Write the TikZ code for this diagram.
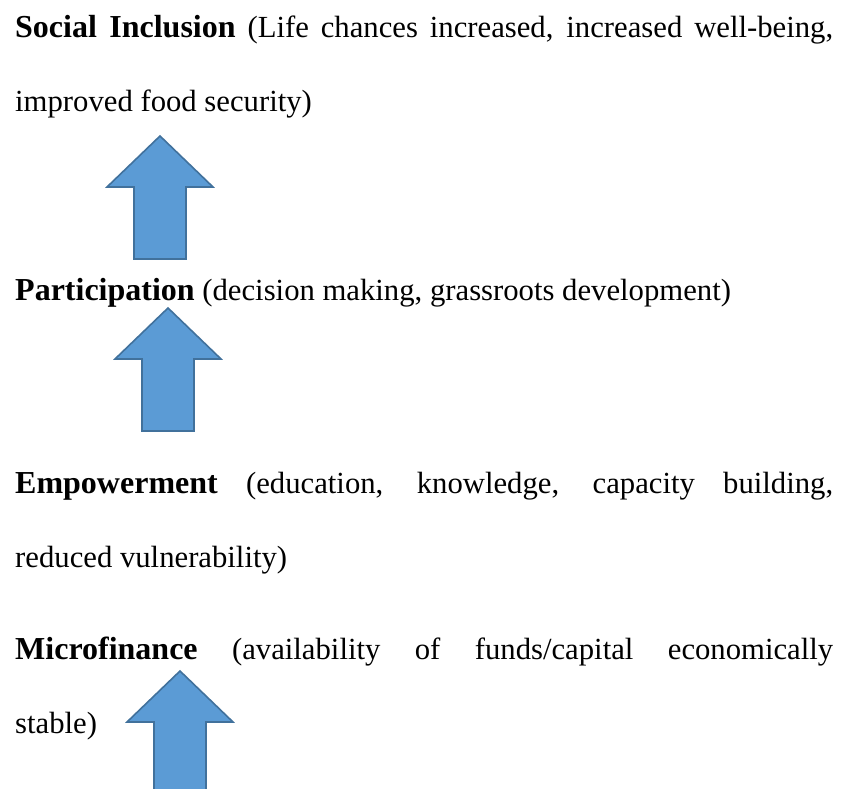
\documentclass[tikz,border=0pt]{standalone}
\usepackage{fontspec}
\setmainfont{Liberation Serif}
\usetikzlibrary{positioning}
\definecolor{arrowfill}{HTML}{5B9BD5}
\definecolor{arrowline}{HTML}{41719C}

\tikzset{
    textline/.style={anchor=base west, inner sep=0pt, font=\fontsize{30.7}{40}\selectfont},
    blockarrow/.pic={
        \draw[fill=arrowfill, draw=arrowline, line width=1.6pt, line join=miter]
            (0,0) -- (53,51) -- (26,51) -- (26,123) -- (-26,123) -- (-26,51) -- (-53,51) -- cycle;
    }
}
\newcommand{\fullline}[1]{\makebox[818pt][s]{#1}}
\newcommand{\term}[1]{{\fontsize{32}{40}\selectfont\bfseries #1}}

\begin{document}
\begin{tikzpicture}[x=1pt, y=-1pt]
    \useasboundingbox (0,0) rectangle (846,789);
    \clip (0,0) rectangle (846,789);
    % text
    \node[textline] (inclusionA) at (15,38) {\fullline{\term{Social Inclusion} (Life chances increased, increased well-being,}};
    \node[textline] (inclusionB) at (15,112) {improved food security)};
    \node[textline] (participation) at (15,300) {\term{Participation} (decision making, grassroots development)};
    \node[textline] (empowerA) at (15,493) {\fullline{\term{Empowerment} (education, knowledge, capacity building,}};
    \node[textline] (empowerB) at (15,567) {reduced vulnerability)};
    \node[textline] (microA) at (15,659) {\fullline{\term{Microfinance} (availability of funds/capital economically}};
    \node[textline] (microB) at (15,733) {stable)};
    % arrows
    \pic at (160,136) {blockarrow};
    \pic at (168,308) {blockarrow};
    \pic at (180,671) {blockarrow};
\end{tikzpicture}
\end{document}
